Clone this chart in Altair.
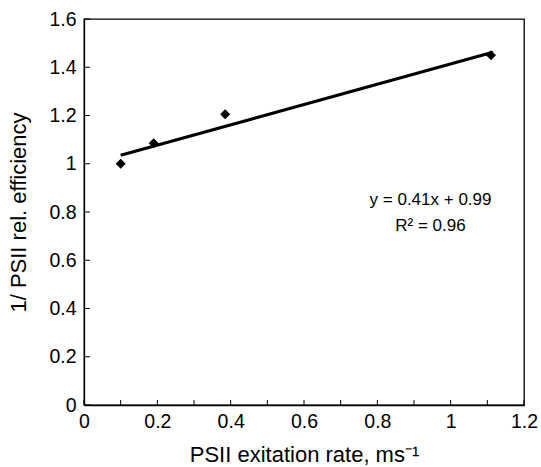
import altair as alt
import pandas as pd

# measured points
rate = [0.1, 0.19, 0.385, 1.11]
inv_eff = [1.0, 1.085, 1.205, 1.45]

# fitted line endpoints
fit_x = [0.1, 1.115]
fit_y = [1.035, 1.462]

# annotation
ann_text = ["y = 0.41x + 0.99", "R² = 0.96"]
ann_x = [0.945, 0.945]
ann_y = [0.85, 0.742]

x_ticks = [round(i * 0.1, 1) for i in range(13)]
y_ticks = [round(i * 0.2, 1) for i in range(9)]

W, H = 440, 386
FONT = "Liberation Sans"

pts = pd.DataFrame({"x": rate, "y": inv_eff})
fit = pd.DataFrame({"x": fit_x, "y": fit_y})
ann = pd.DataFrame({"x": ann_x, "y": ann_y, "t": ann_text})
xt = pd.DataFrame({"v": x_ticks})
yt = pd.DataFrame({"v": y_ticks})

xscale = alt.Scale(domain=[0, 1.2], nice=False, zero=False)
yscale = alt.Scale(domain=[0, 1.6], nice=False, zero=False)

xaxis = alt.Axis(
    values=x_ticks,
    labelExpr="round(datum.value*10) % 2 == 0 ? format(datum.value, '~g') : ''",
    ticks=False, grid=False, labelOverlap=False, labelFlush=False,
    labelFont=FONT, labelFontSize=19.5, labelColor="#000", labelPadding=7,
    title="PSII exitation rate, ms⁻¹", titleFont=FONT, titleFontSize=22,
    titleFontWeight="normal", titleColor="#000", titlePadding=14,
    domainColor="#000", domainWidth=1.3,
)
yaxis = alt.Axis(
    values=y_ticks, format="~g",
    ticks=False, grid=False, labelOverlap=False, labelFlush=False,
    labelFont=FONT, labelFontSize=19.5, labelColor="#000", labelPadding=8,
    title="1/ PSII rel. efficiency", titleFont=FONT, titleFontSize=22,
    titleFontWeight="normal", titleColor="#000", titlePadding=18,
    domainColor="#000", domainWidth=1.3,
)

base_x = alt.X("x:Q", scale=xscale, axis=xaxis)
base_y = alt.Y("y:Q", scale=yscale, axis=yaxis)

line = alt.Chart(fit).mark_line(color="#000", strokeWidth=3).encode(x=base_x, y=base_y)
points = alt.Chart(pts).mark_point(shape="diamond", filled=True, color="#000", size=100, opacity=1).encode(
    x=alt.X("x:Q", scale=xscale), y=alt.Y("y:Q", scale=yscale))
text = alt.Chart(ann).mark_text(font=FONT, fontSize=17, color="#000", align="center", baseline="middle").encode(
    x=alt.X("x:Q", scale=xscale), y=alt.Y("y:Q", scale=yscale), text="t:N")

xtick = alt.Chart(xt).mark_rule(color="#000", strokeWidth=1).encode(
    x=alt.X("v:Q", scale=xscale), y=alt.value(H), y2=alt.value(H - 5))
ytick = alt.Chart(yt).mark_rule(color="#000", strokeWidth=1).encode(
    y=alt.Y("v:Q", scale=yscale), x=alt.value(0), x2=alt.value(6))

chart = alt.layer(line, points, text, xtick, ytick).properties(
    width=W, height=H,
    autosize=alt.AutoSizeParams(type="none"),
    padding={"left": 84, "top": 19, "right": 17, "bottom": 62},
    background="white",
).configure_view(stroke="#000", strokeWidth=1.3)

chart.save("out.html", embed_options={"renderer": "svg", "actions": False})
